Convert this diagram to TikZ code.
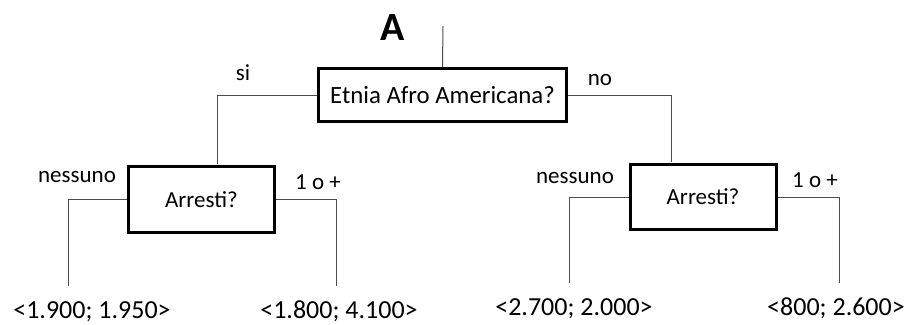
\documentclass[tikz,border=0pt]{standalone}
\usepackage{fontspec}
\setmainfont{Carlito}
\begin{document}
\begin{tikzpicture}[x=1pt,y=-1pt,
  qbox/.style={draw=black,line width=3pt,fill=white,inner sep=0pt,font=\fontsize{23}{26}\selectfont},
  lbl/.style={inner sep=0pt,font=\fontsize{23}{26}\selectfont},
  leaf/.style={inner sep=0pt,anchor=base,font=\fontsize{26}{29}\selectfont},
  conn/.style={draw=black!70,line width=1pt}]
\useasboundingbox (0,0) rectangle (909,324);
\node[qbox,minimum width=248pt,minimum height=53pt,font=\fontsize{24.8}{28}\selectfont] (root) at (442.5,95) {Etnia Afro Americana?};
\node[qbox,minimum width=146pt,minimum height=66pt] (lb) at (201.5,199.5) {Arresti?};
\node[qbox,minimum width=146pt,minimum height=65pt] (rb) at (703,197) {Arresti?};
\coordinate (top) at (443,26);
\coordinate (lin) at (217,163.5);
\coordinate (rin) at (671,161.5);
\coordinate (l1) at (68,286);
\coordinate (l2) at (336,286);
\coordinate (r1) at (569,283);
\coordinate (r2) at (839,283);
\node[inner sep=0pt,font=\fontsize{40}{44}\bfseries\selectfont] (A) at (393,28) {A};
\node[lbl] (si) at (243,73) {si};
\node[lbl] (no) at (600,80) {no};
\node[lbl] (ln) at (77,177) {nessuno};
\node[lbl] (lp) at (318,182) {1 o +};
\node[lbl] (rn) at (575,178) {nessuno};
\node[lbl] (rp) at (815,180) {1 o +};
\node[leaf] (t1) at (92,318) {<1.900; 1.950>};
\node[leaf] (t2) at (339,318) {<1.800; 4.100>};
\node[leaf] (t3) at (574,315.5) {<2.700; 2.000>};
\node[leaf] (t4) at (836,315.5) {<800; 2.600>};
\draw[conn] (top) -- (root.north);
\draw[conn] (root.west) -| (lin);
\draw[conn] (root.east) -| (rin);
\draw[conn] (lb.west) -| (l1);
\draw[conn] (lb.east) -| (l2);
\draw[conn] (rb.west) -| (r1);
\draw[conn] (rb.east) -| (r2);
\end{tikzpicture}
\end{document}
